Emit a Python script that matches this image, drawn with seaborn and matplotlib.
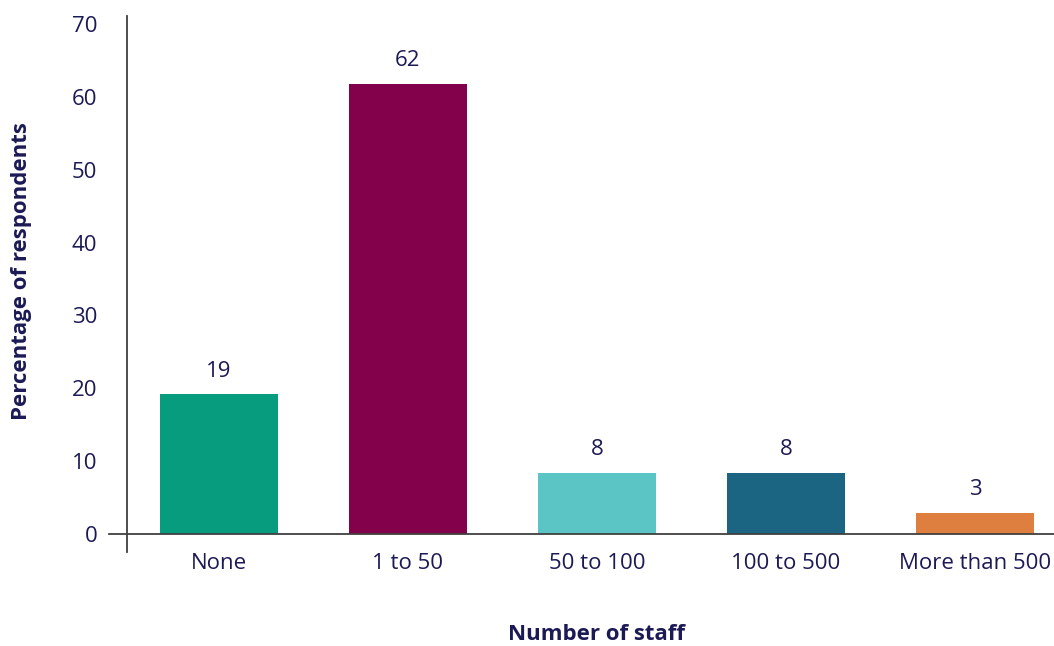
import matplotlib
matplotlib.use("Agg")
import matplotlib.pyplot as plt
import pandas as pd
import seaborn as sns

# data
categories = ["None", "1 to 50", "50 to 100", "100 to 500", "More than 500"]
percentages = [19.2, 61.8, 8.4, 8.4, 2.9]
bar_colors = ["#089c7e", "#83004a", "#5bc5c6", "#1b6482", "#de7e3f"]
y_ticks = [0, 10, 20, 30, 40, 50, 60, 70]

TEXT = "#1c1a55"

df = pd.DataFrame({"staff": categories, "pct": percentages})

sns.set_theme(style="white")
plt.rcParams["font.family"] = ["Open Sans", "DejaVu Sans"]

fig = plt.figure(figsize=(10.54, 6.46), dpi=100)
ax = fig.add_axes([0.1034, 0.1452, 0.8966, 0.830])

sns.barplot(data=df, x="staff", y="pct", hue="staff", palette=bar_colors,
            order=categories, hue_order=categories, legend=False,
            width=0.624, saturation=1, linewidth=0, ax=ax)

for cont in ax.containers:
    ax.bar_label(cont, fmt="{:.0f}", padding=9, fontsize=16, color=TEXT)

ax.set_xlim(-0.58, 4.418)
ax.set_ylim(-2.5, 71.1)
ax.set_yticks(y_ticks)

for side in ["top", "right"]:
    ax.spines[side].set_visible(False)
ax.spines["left"].set_position(("data", -0.487))
ax.spines["bottom"].set_position(("data", 0))
for side in ["left", "bottom"]:
    ax.spines[side].set_color("#404040")
    ax.spines[side].set_linewidth(1.3)

ax.tick_params(axis="y", length=0, pad=21, labelsize=16, labelcolor=TEXT)
ax.tick_params(axis="x", length=0, pad=14, labelsize=16, labelcolor=TEXT)

ax.set_xlabel("")
ax.set_ylabel("")
fig.text(0.5664, 1 - 635 / 646, "Number of staff", ha="center", va="center",
         fontsize=16, fontweight="bold", color=TEXT)
fig.text(22 / 1054, 1 - 271 / 646, "Percentage of respondents", ha="center",
         va="center", rotation=90, fontsize=16, fontweight="bold", color=TEXT)

fig.savefig("out.png", dpi=100)
